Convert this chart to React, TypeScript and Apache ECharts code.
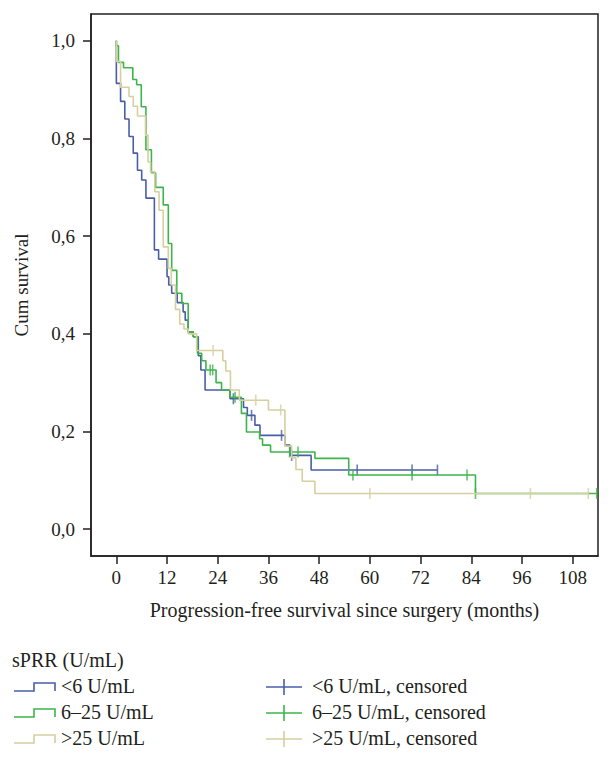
import React, { useEffect, useRef } from "react";
import * as echarts from "echarts";

const monthTicks = [0, 12, 24, 36, 48, 60, 72, 84, 96, 108];
const survTicks = [0, 0.2, 0.4, 0.6, 0.8, 1.0];

const groupNames = ["<6 U/mL", "6–25 U/mL", ">25 U/mL"];
const groupColors = ["#4a5ea8", "#3db54a", "#d6cf9f"];

const lowSteps: [number, number][] = [
  [0, 1], [0, 0.913], [1, 0.876], [2, 0.84], [3, 0.804], [4, 0.77], [5, 0.735], [6, 0.715],
  [7, 0.678], [9, 0.572], [10, 0.553], [12, 0.517], [12.4, 0.5], [13.1, 0.483], [14.4, 0.464],
  [15.8, 0.445], [16.3, 0.428], [17, 0.404], [18.2, 0.394], [19.4, 0.355], [20, 0.326],
  [21, 0.285], [26.9, 0.267], [30.1, 0.249], [31, 0.233], [32.8, 0.213], [34, 0.192],
  [39.9, 0.172], [41.1, 0.151], [46.1, 0.121], [76, 0.121],
];
const lowCensored: [number, number][] = [
  [27.7, 0.267], [32, 0.233], [39.1, 0.192], [41.5, 0.151], [57, 0.121], [70, 0.121], [76, 0.121],
];

const midSteps: [number, number][] = [
  [0, 1], [0, 0.99], [0.5, 0.956], [1.7, 0.945], [3.9, 0.921], [4.8, 0.91], [5.9, 0.865],
  [7, 0.777], [8.3, 0.73], [9.3, 0.7], [11.1, 0.664], [12.3, 0.585], [13.1, 0.53],
  [14.3, 0.483], [15.5, 0.462], [17, 0.404], [18.2, 0.394], [19.2, 0.36], [20.2, 0.345],
  [21.2, 0.326], [23.6, 0.3], [24.9, 0.285], [26.9, 0.27], [29.6, 0.237], [30.8, 0.199],
  [33.9, 0.185], [34.6, 0.172], [36.5, 0.158], [47, 0.145], [55, 0.111], [85, 0.073],
  [113.7, 0.073],
];
const midCensored: [number, number][] = [
  [22.2, 0.326], [22.8, 0.326], [28.1, 0.27], [41, 0.158], [43, 0.158], [56, 0.111],
  [70, 0.111], [83, 0.111], [85, 0.073], [113.7, 0.073],
];

const highSteps: [number, number][] = [
  [0, 1], [0, 0.958], [1, 0.905], [3, 0.886], [4, 0.866], [5, 0.846], [6.9, 0.807],
  [7.5, 0.752], [8.1, 0.732], [9.1, 0.691], [10.1, 0.653], [11.1, 0.578], [12.3, 0.534],
  [13, 0.5], [14, 0.45], [15, 0.42], [16, 0.41], [17, 0.4], [19, 0.366], [25.2, 0.345],
  [25.9, 0.324], [27, 0.285], [29.1, 0.264], [36, 0.244], [39.9, 0.17], [41.5, 0.146],
  [42.5, 0.122], [44, 0.098], [47, 0.073], [111.7, 0.073],
];
const highCensored: [number, number][] = [
  [22.9, 0.366], [33, 0.264], [38.9, 0.244], [60, 0.073], [98, 0.073], [111.7, 0.073],
];

const FONT = "'Liberation Serif', 'DejaVu Serif', serif";
const TXT = "#231f20";

export default function App() {
  const ref = useRef<HTMLDivElement>(null);
  useEffect(() => {
    if (!ref.current) return;
    const chart = echarts.init(ref.current, undefined, { renderer: "svg" });
    const steps = [lowSteps, midSteps, highSteps];
    const cens = [lowCensored, midCensored, highCensored];
    const series: any[] = [];
    steps.forEach((d, i) => {
      series.push({
        type: "line",
        name: groupNames[i],
        step: "end",
        data: d,
        showSymbol: false,
        lineStyle: { color: groupColors[i], width: 1.6 },
        z: 2 + i,
      });
    });
    cens.forEach((d, i) => {
      series.push({
        type: "scatter",
        name: groupNames[i] + ", censored",
        data: d,
        symbol: "rect",
        symbolSize: [1.6, 11],
        itemStyle: { color: groupColors[i] },
        z: 2 + i,
      });
    });

    const lx = 14;
    const rows = [686, 712, 738];
    const graphics: any[] = [
      {
        type: "text",
        x: 12,
        y: 660,
        style: {
          text: "sPRR (U/mL)",
          font: `20px ${FONT}`,
          fill: TXT,
          verticalAlign: "middle",
        },
      },
    ];
    rows.forEach((y, i) => {
      graphics.push({
        type: "polyline",
        shape: {
          points: [
            [lx, y + 5], [lx + 20, y + 5], [lx + 20, y - 3], [lx + 41, y - 3], [lx + 41, y + 5],
          ],
        },
        style: { stroke: groupColors[i], lineWidth: 1.6, fill: null },
      });
      graphics.push({
        type: "text",
        x: 61,
        y: y,
        style: {
          text: groupNames[i],
          font: `20px ${FONT}`,
          fill: TXT,
          verticalAlign: "middle",
        },
      });
      graphics.push({
        type: "line",
        shape: { x1: 266, y1: y + 1, x2: 302, y2: y + 1 },
        style: { stroke: groupColors[i], lineWidth: 1.6 },
      });
      graphics.push({
        type: "line",
        shape: { x1: 284, y1: y - 7, x2: 284, y2: y + 9 },
        style: { stroke: groupColors[i], lineWidth: 1.6 },
      });
      graphics.push({
        type: "text",
        x: 312,
        y: y,
        style: {
          text: groupNames[i] + ", censored",
          font: `20px ${FONT}`,
          fill: TXT,
          verticalAlign: "middle",
        },
      });
    });

    chart.setOption({
      animation: false,
      backgroundColor: "#ffffff",
      grid: {
        left: 91,
        right: 17,
        top: 14,
        bottom: 205,
        show: true,
        borderColor: "#231f20",
        borderWidth: 1.5,
        backgroundColor: "transparent",
      },
      xAxis: {
        type: "value",
        min: -6,
        max: 114,
        name: "Progression-free survival since surgery (months)",
        nameLocation: "middle",
        nameGap: 44,
        nameTextStyle: { fontFamily: FONT, fontSize: 20, color: TXT },
        axisLine: { show: true, onZero: false, lineStyle: { color: "#231f20", width: 1.5 } },
        axisTick: {
          show: true,
          inside: false,
          length: 8,
          customValues: monthTicks,
          lineStyle: { color: "#231f20", width: 1.5 },
        },
        axisLabel: {
          customValues: monthTicks,
          fontFamily: FONT,
          fontSize: 19,
          color: TXT,
          margin: 12,
        },
        splitLine: { show: false },
      },
      yAxis: {
        type: "value",
        min: -0.055,
        max: 1.055,
        name: "Cum survival",
        nameLocation: "middle",
        nameGap: 60,
        nameTextStyle: { fontFamily: FONT, fontSize: 19, color: TXT },
        axisLine: { show: true, onZero: false, lineStyle: { color: "#231f20", width: 1.5 } },
        axisTick: {
          show: true,
          inside: false,
          length: 8,
          customValues: survTicks,
          lineStyle: { color: "#231f20", width: 1.5 },
        },
        axisLabel: {
          customValues: survTicks,
          fontFamily: FONT,
          fontSize: 19,
          color: TXT,
          margin: 16,
          formatter: (v: number) => v.toFixed(1).replace(".", ","),
        },
        splitLine: { show: false },
      },
      series,
      graphic: graphics,
    });
    return () => chart.dispose();
  }, []);
  return (
    <div
      ref={ref}
      style={{ position: "fixed", left: 0, top: 0, width: 615, height: 761, background: "#fff" }}
    />
  );
}
